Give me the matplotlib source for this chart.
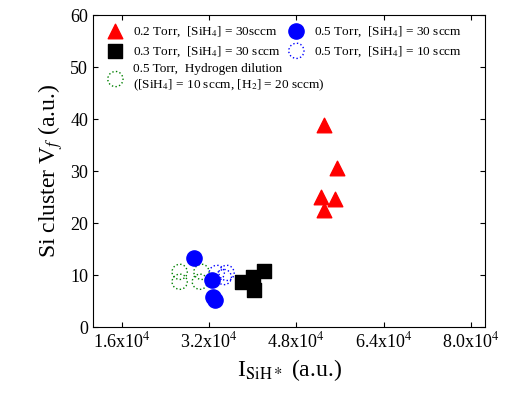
import matplotlib
matplotlib.use('Agg')
from matplotlib import pyplot as plt
from matplotlib.ticker import FixedLocator

plt.rcParams['font.family'] = ['Liberation Serif', 'DejaVu Serif']
plt.rcParams['mathtext.fontset'] = 'stix'

# Datos
tri_x = [5.31e4, 5.55e4, 5.26e4, 5.51e4, 5.31e4]
tri_y = [38.8, 30.6, 25.0, 24.6, 22.5]
sq_x = [4.21e4, 4.00e4, 3.81e4, 4.03e4]
sq_y = [10.8, 9.6, 8.7, 7.1]
bf_x = [2.93e4, 3.25e4, 3.30e4, 3.28e4]
bf_y = [13.3, 9.0, 5.2, 5.8]
bo_x = [3.34e4, 3.52e4, 3.47e4]
bo_y = [10.4, 10.4, 9.6]
go_x = [2.66e4, 2.66e4, 3.06e4, 3.03e4]
go_y = [10.6, 8.7, 10.6, 8.7]

xticks = [1.6e4, 3.2e4, 4.8e4, 6.4e4, 8.0e4]
xlabels = ['1.6x10$^4$', '3.2x10$^4$', '4.8x10$^4$', '6.4x10$^4$', '8.0x10$^4$']

fig = plt.figure(figsize=(5.05, 4.0), dpi=100)
ax = fig.add_axes([93/505, 73/400, 392/505, 312/400])

h1 = ax.scatter(tri_x, tri_y, marker='^', s=110, c='red', label='0.2 Torr,  [SiH$_4$] = 30sccm', zorder=3)
h2 = ax.scatter(sq_x, sq_y, marker='s', s=100, c='black', label='0.3 Torr,  [SiH$_4$] = 30 sccm', zorder=3)
h5 = ax.scatter(go_x, go_y, marker='o', s=120, facecolors='none', edgecolors='green', linestyle=':',
                label='0.5 Torr,  Hydrogen dilution\n([SiH$_4$] = 10 sccm, [H$_2$] = 20 sccm)', zorder=3)
h3 = ax.scatter(bf_x, bf_y, marker='o', s=120, c='blue', label='0.5 Torr,  [SiH$_4$] = 30 sccm', zorder=3)
h4 = ax.scatter(bo_x, bo_y, marker='o', s=120, facecolors='none', edgecolors='blue', linestyle=':',
                label='0.5 Torr,  [SiH$_4$] = 10 sccm', zorder=3)

ax.set_xlim(1.07e4, 8.26e4)
ax.set_ylim(0, 60)
ax.xaxis.set_major_locator(FixedLocator(xticks))
ax.set_xticklabels(xlabels)
ax.tick_params(labelsize=13, direction='in', top=True, right=True)
ax.set_yticks(range(0, 61, 10))
ax.set_xlabel('I$_{\\mathrm{SiH*}}$ (a.u.)', fontsize=17)
ax.set_ylabel('Si cluster V$_f$ (a.u.)', fontsize=17)

leg1 = ax.legend(handles=[h1, h2, h3, h4], loc='upper left', ncol=2, fontsize=9.5, frameon=False,
                 handletextpad=0.3, columnspacing=0.2, borderaxespad=0.3, labelspacing=0.4)
ax.add_artist(leg1)
ax.legend(handles=[h5], loc='upper left', bbox_to_anchor=(0.0, 0.875), fontsize=9.5, frameon=False,
          handletextpad=0.3, borderaxespad=0.3)

plt.savefig('out.png', dpi=100)
